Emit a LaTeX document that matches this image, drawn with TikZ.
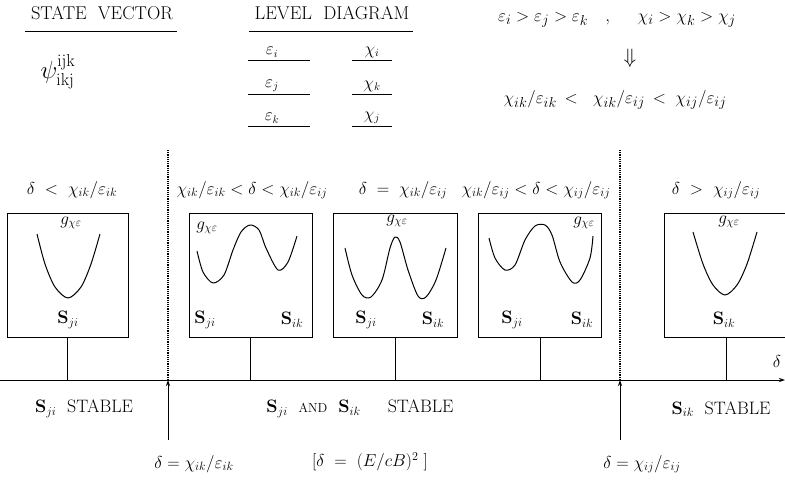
\documentclass[tikz,border=0pt]{standalone}
\usepackage{amsmath,amssymb}
\usepackage{tikz}
\usetikzlibrary{calc,positioning,arrows.meta}
\tikzset{
  boxline/.style={draw,line width=0.9pt,inner sep=0pt,minimum height=124pt},
  wellline/.style={line width=1pt,line join=round},
  dotline/.style={line width=1.2pt,densely dotted},
  axisline/.style={line width=0.8pt},
  headfont/.style={font=\fontsize{18.5}{20}\selectfont},
  condfont/.style={font=\fontsize{17}{19}\selectfont},
  topfont/.style={font=\fontsize{19}{21}\selectfont},
  levfont/.style={font=\fontsize{16}{18}\selectfont},
  sfont/.style={font=\fontsize{18}{20}\selectfont},
}
\newcommand{\wbox}[3]{%
  \node[boxline,minimum width=#3pt] (#1) at (#2,275) {};
  \draw[axisline] (#1.south) -- (#1.south |- axl);}
\newcommand{\lrow}[4]{%
  \node[levfont] (e#1) at (272,#2) {$#3$};
  \node[levfont] (c#1) at (372,#2) {$#4$};
  \coordinate (e#1a) at (248,{#2+8}); \coordinate (e#1b) at (310,{#2+8});
  \coordinate (c#1a) at (352,{#2+8}); \coordinate (c#1b) at (392,{#2+8});
  \draw (e#1a) -- (e#1b); \draw (c#1a) -- (c#1b);}
\newcommand{\gx}[3]{\node[font=\fontsize{17}{19}\selectfont] (#1) at (#2,#3) {$g_{\chi\varepsilon}$};}
\newcommand{\slab}[4]{\node[sfont] (#1) at (#2,#3) {\textbf{S}$_{#4}$};}

\begin{document}
\begin{tikzpicture}[x=1pt,y=-1pt]
  \useasboundingbox (0,0) rectangle (785,496);
  % headings
  \node[headfont,anchor=base] (sv) at (102,19) {STATE\ \ VECTOR};
  \node[headfont,anchor=base] (ld) at (332,19) {LEVEL\ \ DIAGRAM};
  \draw ([yshift=-12pt,xshift=-2pt]sv.base west) -- ([yshift=-12pt]sv.base east);
  \draw ([yshift=-12pt,xshift=-2pt]ld.base west) -- ([yshift=-12pt]ld.base east);
  \node[font=\fontsize{24}{26}\selectfont] (psi) at (58,72) {$\psi^{\mathrm{ijk}}_{\mathrm{ikj}}$};
  % level diagram
  \lrow{1}{52}{\varepsilon_i}{\chi_i}
  \lrow{2}{86}{\varepsilon_j}{\chi_k}
  \lrow{3}{118}{\varepsilon_k}{\chi_j}
  % ordering
  \node[topfont] (ord) at (617,20) {$\varepsilon_i>\varepsilon_j>\varepsilon_k\ \ \ ,\quad\ \chi_i>\chi_k>\chi_j$};
  \node[font=\fontsize{22}{24}\selectfont] (imp) at (630,58) {$\Downarrow$};
  \node[topfont] (rat) at (615,100) {$\chi_{ik}/\varepsilon_{ik}\,<\;\ \chi_{ik}/\varepsilon_{ij}\,<\;\chi_{ij}/\varepsilon_{ij}$};
  % axis
  \coordinate (axl) at (0,380);
  \coordinate (axr) at (785,380);
  \draw[axisline,-{Stealth[length=6pt,width=4pt]}] (axl) -- (axr);
  \node[condfont] (dax) at (777,361) {$\delta$};
  % boundaries
  \coordinate (d1) at (168,150); \coordinate (a1) at (168,440);
  \coordinate (d2) at (620,150); \coordinate (a2) at (620,440);
  \draw[dotline] (d1) -- (d1 |- axl);
  \draw[dotline] (d2) -- (d2 |- axl);
  \draw[axisline,-{Stealth[length=6pt,width=4pt]}] (a1) -- (a1 |- axl);
  \draw[axisline,-{Stealth[length=6pt,width=4pt]}] (a2) -- (a2 |- axl);
  % conditions
  \node[condfont] (t1) at (72,190) {$\delta\ <\ \chi_{ik}/\varepsilon_{ik}$};
  \node[condfont] (t2) at (252,190) {$\chi_{ik}/\varepsilon_{ik}<\delta<\chi_{ik}/\varepsilon_{ij}$};
  \node[condfont] (t3) at (403,190) {$\delta\ =\ \chi_{ik}/\varepsilon_{ij}$};
  \node[condfont] (t4) at (536,190) {$\chi_{ik}/\varepsilon_{ij}<\delta<\chi_{ij}/\varepsilon_{ij}$};
  \node[condfont] (t5) at (716,190) {$\delta\ >\ \chi_{ij}/\varepsilon_{ij}$};
  % boxes
  \wbox{b1}{67.5}{121}
  \wbox{b2}{250.5}{123}
  \wbox{b3}{395}{124}
  \wbox{b4}{540}{123}
  \wbox{b5}{726}{124}
  % wells
  \draw[wellline] plot[smooth] coordinates {(37,234) (45,264) (55,287) (68,298) (81,287) (91,264) (100,234)};
  \draw[wellline] plot[smooth] coordinates {(197,251) (203,272) (213,283) (224,275) (233,250) (241,232) (250,225) (259,230) (266,248) (278,270) (288,262) (297,236)};
  \draw[wellline] plot[smooth] coordinates {(345,248) (352,275) (362,295) (371,297) (382,280) (390,248) (395,237) (400,242) (408,270) (418,296) (426,297) (436,280) (446,248)};
  \draw[wellline] plot[smooth] coordinates {(489,238) (495,258) (505,270) (515,265) (525,240) (535,226) (545,225) (552,235) (560,262) (572,282) (580,280) (590,258) (593,236)};
  \draw[wellline] plot[smooth] coordinates {(693,232) (703,264) (713,285) (725,295) (737,285) (747,264) (757,232)};
  \gx{g1}{71}{223}\gx{g2}{207}{228}\gx{g3}{397}{221}\gx{g4}{584}{223}\gx{g5}{729}{222}
  \slab{s1}{68}{320}{ji}
  \slab{s2}{205}{320}{ji}\slab{s3}{292}{320}{ik}
  \slab{s4}{366}{320}{ji}\slab{s5}{433}{320}{ik}
  \slab{s6}{512}{320}{ji}\slab{s7}{582}{320}{ik}
  \slab{s8}{724}{320}{ik}
  % regimes
  \node[sfont] (r1) at (84,409) {\textbf{S}$_{ji}$\ \ STABLE};
  \node[sfont] (r2) at (360,409) {\textbf{S}$_{ji}$\ \ {\fontsize{13}{15}\selectfont AND}\ \ \textbf{S}$_{ik}$\ \ \ \ \ STABLE};
  \node[sfont] (r3) at (721,409) {\textbf{S}$_{ik}$\ \ STABLE};
  % thresholds
  \node[condfont] (v1) at (194,464) {$\delta=\chi_{ik}/\varepsilon_{ik}$};
  \node[condfont] (v2) at (370,462) {$[\delta\ =\ (E/cB)^2\ ]$};
  \node[condfont] (v3) at (642,464) {$\delta=\chi_{ij}/\varepsilon_{ij}$};
\end{tikzpicture}
\end{document}
